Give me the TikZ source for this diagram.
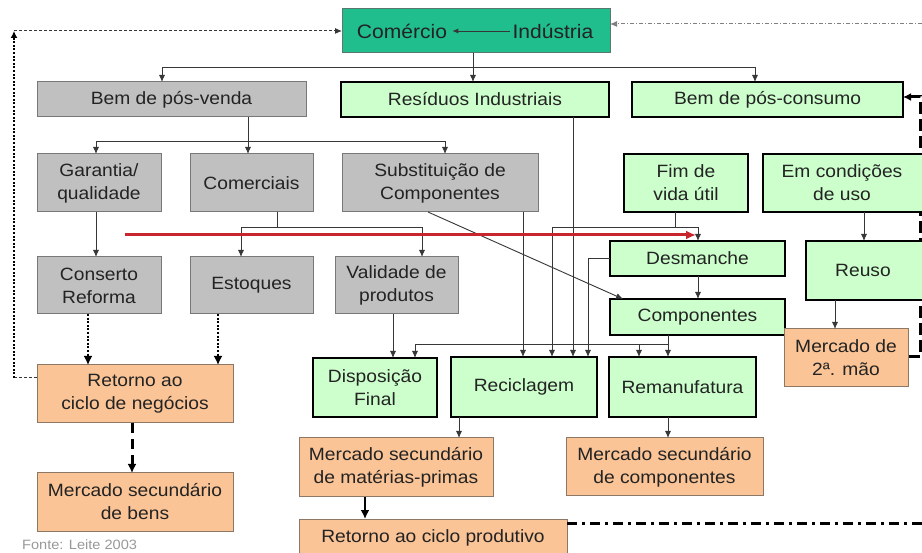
\documentclass[tikz,border=0pt]{standalone}
\usepackage{fontspec}
\setmainfont[FakeStretch=1.08]{Liberation Sans}
\usetikzlibrary{arrows.meta}
\definecolor{gfill}{RGB}{192,192,192}
\definecolor{gdraw}{RGB}{120,120,120}
\definecolor{lgreen}{RGB}{204,255,204}
\definecolor{peach}{RGB}{250,196,150}
\definecolor{pdraw}{RGB}{140,120,100}
\definecolor{tealc}{RGB}{32,190,140}
\definecolor{tealbd}{RGB}{90,120,110}
\definecolor{txt}{RGB}{35,35,35}
\definecolor{lnk}{RGB}{55,55,55}
\definecolor{redarr}{RGB}{200,38,44}
\pgfdeclarelayer{back}
\pgfdeclarelayer{bg}
\pgfsetlayers{back,bg,main}
\newcommand\bx[7]{\node[#2, minimum width={#5-#3}, minimum height={#6-#4}] (#1) at ({(#3+#5)/2},{(#4+#6)/2}) {#7};}
\begin{document}
\begin{tikzpicture}[x=1pt,y=-1pt,
  font=\fontsize{17.8}{23}\selectfont,
  box/.style={rectangle, inner sep=0pt, outer sep=0pt, align=center, text=txt},
  graybox/.style={box, fill=gfill, draw=gdraw, line width=1pt},
  greenbox/.style={box, fill=lgreen, draw=black, line width=2.6pt},
  peachbox/.style={box, fill=peach, draw=pdraw, line width=1pt},
  topbox/.style={box, fill=tealc, draw=tealbd, line width=1pt},
  conn/.style={draw=lnk, line width=0.9pt, -{Latex[length=7pt,width=6pt]}},
  link/.style={draw=lnk, line width=0.9pt},
  dotarrow/.style={draw=black, line width=2.6pt, dash pattern=on 2pt off 1.6pt, -{Latex[length=9pt,width=9pt]}},
  dasharrow/.style={draw=black, line width=3pt, dash pattern=on 10pt off 6pt, -{Latex[length=9pt,width=9pt]}},
  redline/.style={draw=redarr, line width=3pt, -{Latex[length=10pt,width=9pt]}}]
\useasboundingbox (0,0) rectangle (922,553);
\begin{pgfonlayer}{back}
\fill[white] (0,0) rectangle (922,553);
\end{pgfonlayer}
\clip (0,0) rectangle (922,553);

% boxes
\bx{ci}{topbox}{342}{9}{610}{53}{}
\node[text=txt, font=\fontsize{19.5}{23}\selectfont, inner sep=2pt, inner xsep=5pt] (comT) at (402,31) {Comércio};
\node[text=txt, font=\fontsize{19.5}{23}\selectfont, inner sep=2pt] (indT) at (553,31) {Indústria};

\bx{bpv}{graybox}{37}{82}{306}{117}{Bem de pós-venda}
\bx{res}{greenbox}{341}{82}{609}{117}{Resíduos Industriais}
\bx{bpc}{greenbox}{632}{82}{903}{117}{Bem de pós-consumo}

\bx{gar}{graybox}{37}{154}{161}{212}{Garantia/\\qualidade}
\bx{com}{graybox}{190}{154}{313}{212}{Comerciais}
\bx{sub}{graybox}{342}{154}{538}{212}{Substituição de\\Componentes}
\bx{fim}{greenbox}{624}{154}{748}{212}{Fim de\\vida útil}
\bx{em}{greenbox}{763}{154}{935}{212}{\makebox[172pt][l]{\parbox{158pt}{\centering Em condições\\de uso}}}

\bx{desm}{greenbox}{610}{241}{785}{276}{Desmanche}
\bx{reu}{greenbox}{806}{241}{935}{300}{\makebox[129pt][l]{\parbox{114pt}{\centering Reuso}}}
\bx{cmp}{greenbox}{610}{299}{785}{335}{Componentes}

\bx{cons}{graybox}{37}{257}{161}{314}{Conserto\\Reforma}
\bx{est}{graybox}{190}{257}{313}{314}{Estoques}
\bx{val}{graybox}{335}{257}{458}{314}{Validade de\\produtos}

\bx{m2}{peachbox}{784}{329}{908}{387}{Mercado de\\2ª. mão}

\bx{disp}{greenbox}{313}{358}{437}{417}{Disposição\\Final}
\bx{rec}{greenbox}{451}{357}{597}{417}{Reciclagem}
\bx{rem}{greenbox}{609}{357}{756}{417}{Remanufatura}

\bx{retn}{peachbox}{37}{365}{233}{423}{Retorno ao\\ciclo de negócios}
\bx{mb}{peachbox}{37}{473}{233}{531}{Mercado secundário\\de bens}
\bx{mmp}{peachbox}{299}{438}{493}{497}{Mercado secundário\\de matérias-primas}
\bx{mc}{peachbox}{566}{438}{763}{496}{Mercado secundário\\de componentes}
\bx{rcp}{peachbox}{299}{519}{567}{557}{Retorno ao ciclo produtivo}

\node[anchor=base west, inner sep=0pt, text=gray!80, font=\fontsize{13.5}{16}\selectfont] (fonte) at (22,549) {Fonte: Leite 2003};

% free ends
\coordinate (lc1) at (14,378);
\coordinate (lc2) at (14,31);
\coordinate (rt) at (922,24);
\coordinate (rr1) at (920,357);
\coordinate (rr2) at (920,97);
\coordinate (bt) at (922,523);
\coordinate (rs) at (125,235);
\coordinate (re) at (696,235);

% right thick dashed loop (behind boxes)
\begin{pgfonlayer}{bg}
\draw[draw=black, line width=3pt, dash pattern=on 12pt off 5pt, -{Latex[length=8pt,width=8pt]}]
  (m2.east |- rr1) -- (rr1) -- (rr2) -- (bpc.east |- rr2);
\end{pgfonlayer}

% inside top box
\draw[conn, -{Latex[length=6pt,width=5pt]}] (indT.west) -- (comT.east);

% left loop
\draw[draw=lnk, line width=1pt, dash pattern=on 3pt off 2pt] (retn.west |- lc1) -- (lc1);
\draw[draw=black, line width=2.6pt, dash pattern=on 2pt off 1.6pt, -{Latex[length=7pt,width=7pt]}] (lc1) -- (lc2);
\draw[draw=lnk, line width=1pt, dash pattern=on 3pt off 2pt, -{Latex[length=7pt,width=6pt]}] (lc2) -- (ci.west |- lc2);

% top right dash-dot
\draw[draw=gray, line width=1pt, dash pattern=on 4pt off 2pt on 1pt off 2pt, -{Latex[length=7pt,width=6pt]}] (rt) -- (ci.east |- rt);

% from Comercio/Industria
\draw[conn] (ci.south -| 473,0) -- (res.north -| 473,0);
\draw[conn] (ci.south -| 473,0) ++(0,14) -| (bpv.north -| 162,0);
\draw[conn] (ci.south -| 473,0) ++(0,14) -| (bpc.north -| 755,0);

% from Bem de pos-venda
\coordinate (jb) at (248,141);
\draw[conn] (bpv.south -| jb) -- (com.north -| jb);
\draw[conn] (jb) -| (gar.north -| 96,0);
\draw[conn] (jb) -| (sub.north -| 445,0);

% garantia -> conserto
\draw[conn] (gar.south -| 96,0) -- (cons.north -| 96,0);

% comerciais -> estoques, validade
\coordinate (jc) at (277,227);
\draw[link] (com.south -| jc) -- (jc);
\draw[conn] (jc) -| (est.north -| 241,0);
\draw[conn] (jc) -| (val.north -| 422,0);

% substituicao
\draw[conn] (sub.south -| 428,0) -- (cmp.north -| 623,0);
\draw[conn] (sub.south -| 523,0) -- (rec.north -| 523,0);

% residuos -> reciclagem
\draw[conn] (res.south -| 573,0) -- (rec.north -| 573,0);

% fim de vida util
\coordinate (jf) at (675,227);
\draw[link] (fim.south -| jf) -- (jf);
\draw[conn] (jf) -| (desm.north -| 698,0);
\draw[conn] (jf) -| (rec.north -| 552,0);

% desmanche
\draw[conn] (desm.west) -| (rec.north -| 588,0);
\draw[conn] (desm.south -| 698,0) -- (cmp.north -| 698,0);

% componentes
\coordinate (jk) at (668,344);
\draw[conn] (cmp.south -| jk) -- (rem.north -| jk);
\draw[conn] (jk) -| (disp.north -| 415,0);
\draw[conn] (jk -| 639,0) -- (rem.north -| 639,0);

% validade -> disposicao
\draw[conn] (val.south -| 393,0) -- (disp.north -| 393,0);

% em condicoes -> reuso -> mercado 2a mao
\draw[conn] (em.south -| 864,0) -- (reu.north -| 864,0);
\draw[conn] (reu.south -| 835,0) -- (m2.north -| 835,0);

% to retorno ao ciclo de negocios
\draw[dotarrow] (cons.south -| 88,0) -- (retn.north -| 88,0);
\draw[dotarrow] (est.south -| 218,0) -- (retn.north -| 218,0);
\draw[dasharrow] (retn.south -| 132,0) -- (mb.north -| 132,0);

% lower right
\draw[conn] (rec.south -| 459,0) -- (mmp.north -| 459,0);
\draw[conn] (rem.south -| 668,0) -- (mc.north -| 668,0);
\draw[draw=black, line width=2pt, -{Latex[length=9pt,width=9pt]}] (mmp.south -| 365,0) -- (rcp.north -| 365,0);
\draw[draw=black, line width=3pt, dash pattern=on 10pt off 5pt on 3pt off 5pt] (rcp.east |- bt) -- (bt);

% red arrow
\draw[redline] (rs) -- (re);
\end{tikzpicture}
\end{document}
